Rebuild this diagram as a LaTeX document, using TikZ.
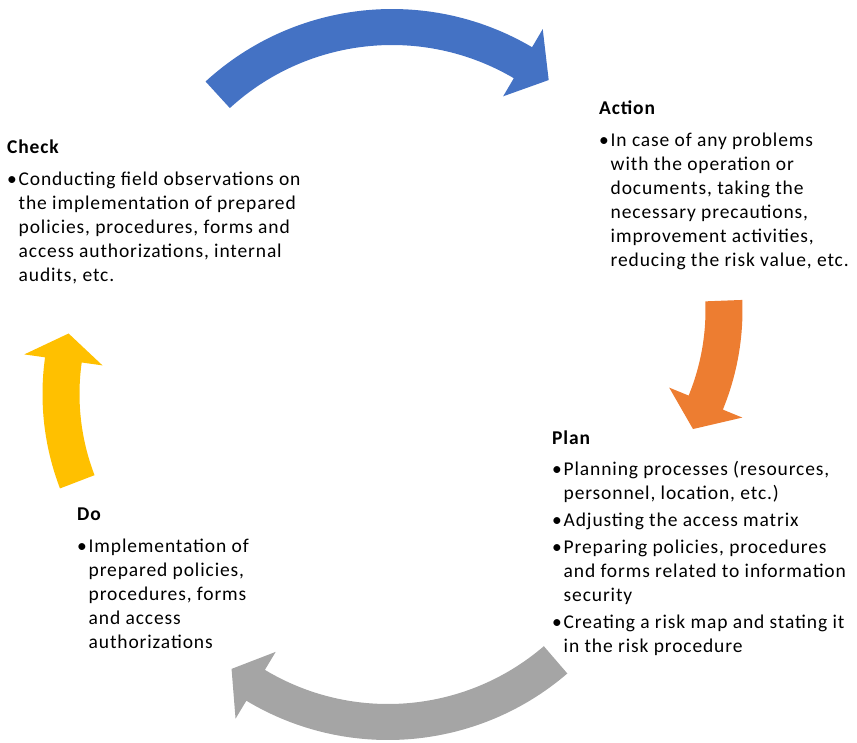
\documentclass[tikz,border=0pt]{standalone}
\usepackage{fontspec}
\setmainfont{Carlito}[LetterSpace=4.5]
\usetikzlibrary{positioning}
\definecolor{cycblue}{RGB}{68,114,196}
\definecolor{cycorange}{RGB}{237,125,49}
\definecolor{cycgray}{RGB}{165,165,165}
\definecolor{cycyellow}{RGB}{255,192,0}
\newcommand{\bitem}{\makebox[11.5pt][l]{\textbullet}}
\newcommand{\bcont}{\hspace*{11.5pt}}
% curved block arrow: colour, centre, mid radius, tail angle, shaft end angle, tip angle, half width
\newcommand{\cycarrow}[7]{%
  \fill[#1] ([shift={({#4}:{#3+#7})}]#2) arc[start angle=#4, end angle=#5, radius=#3+#7]
    -- ([shift={({#5}:{#3+#7+21})}]#2) -- ([shift={({#6}:{#3})}]#2)
    -- ([shift={({#5}:{#3-#7-21})}]#2) -- ([shift={({#5}:{#3-#7})}]#2)
    arc[start angle=#5, end angle=#4, radius=#3-#7] -- cycle;}

\begin{document}
\begin{tikzpicture}[
    x=1pt, y=1pt,
    phase/.style={anchor=north west, inner sep=0pt, align=left, font=\fontsize{19.5}{24}\selectfont}
]
\useasboundingbox (0,0) rectangle (857,-742);
\coordinate (bluec) at (392,-285);
\coordinate (orangec) at (480,-310);
\coordinate (grayc) at (388,-465);
\coordinate (yellowc) at (306,-394);
\cycarrow{cycblue}{bluec}{258}{132.5}{59.5}{52.6}{18}
\cycarrow{cycorange}{orangec}{244}{2.2}{-22.3}{-29.2}{18.5}
\cycarrow{cycgray}{grayc}{257}{-49.3}{-121}{-127.5}{18}
\cycarrow{cycyellow}{yellowc}{245}{201}{172}{165.7}{18.5}
\node[phase] (check) at (7,-136) {\textbf{Check}\strut\\[8.5pt]
  \bitem Conducting field observations on\\
  \bcont the implementation of prepared\\
  \bcont policies, procedures, forms and\\
  \bcont access authorizations, internal\\
  \bcont audits, etc.};
\node[phase] (action) at (599,-97) {\textbf{Action}\strut\\[8.5pt]
  \bitem In case of any problems\\
  \bcont with the operation or\\
  \bcont documents, taking the\\
  \bcont necessary precautions,\\
  \bcont improvement activities,\\
  \bcont reducing the risk value, etc.};
\node[phase] (plan) at (552,-427) {\textbf{Plan}\strut\\[7pt]
  \bitem Planning processes (resources,\\
  \bcont personnel, location, etc.)\\[3pt]
  \bitem Adjusting the access matrix\\[3pt]
  \bitem Preparing policies, procedures\\
  \bcont and forms related to information\\
  \bcont security\\[3pt]
  \bitem Creating a risk map and stating it\\
  \bcont in the risk procedure};
\node[phase] (do) at (77,-503) {\textbf{Do}\strut\\[8pt]
  \bitem Implementation of\\
  \bcont prepared policies,\\
  \bcont procedures, forms\\
  \bcont and access\\
  \bcont authorizations};
\end{tikzpicture}
\end{document}
